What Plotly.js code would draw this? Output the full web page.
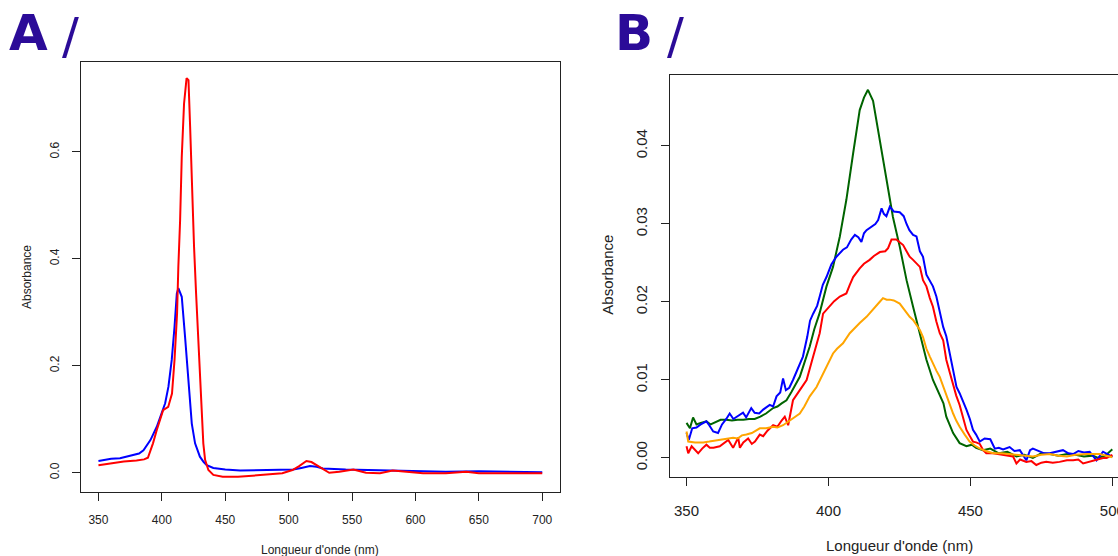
<!DOCTYPE html>
<html>
<head>
<meta charset="utf-8">
<script src="https://cdn.plot.ly/plotly-3.0.1.min.js"></script>
<style>
  html, body { margin: 0; padding: 0; background: #ffffff; overflow: hidden; width: 1118px; height: 556px; }
  #chart { width: 1140px; height: 556px; }
</style>
</head>
<body>
<div id="chart"></div>
<script>
// ---------- Panel A data ----------
const redA_nm = [350, 360, 370, 380, 386, 389, 393, 396, 401, 405, 408, 410, 412, 413, 414.4, 415.7, 417.5, 419.5, 421, 422.3, 423.6, 425.4, 427, 428.8, 430.1, 431.5, 432.7, 434.1, 436.7, 440.6, 448, 460, 472, 485, 495, 503, 508, 514, 518, 522, 527, 532, 540, 551, 561, 572, 582, 593, 606, 624, 640, 650, 665, 676, 690, 700];
const redA_abs = [0.014, 0.018, 0.021, 0.023, 0.025, 0.028, 0.055, 0.080, 0.117, 0.123, 0.148, 0.211, 0.298, 0.385, 0.472, 0.591, 0.690, 0.738, 0.734, 0.647, 0.535, 0.422, 0.335, 0.242, 0.179, 0.117, 0.055, 0.024, 0.005, -0.004, -0.0075, -0.0075, -0.006, -0.003, -0.001, 0.005, 0.012, 0.022, 0.020, 0.014, 0.006, 0.000, 0.002, 0.006, 0.000, -0.001, 0.004, 0.002, -0.001, -0.001, 0.002, -0.001, -0.001, -0.001, -0.001, -0.001];

const blueA_nm = [350, 360, 367, 372, 378, 382, 385.5, 388, 391, 396, 400, 402.6, 405.2, 407.8, 410, 411.8, 413, 414, 415.7, 418.3, 420.9, 423.6, 426.2, 430, 433, 435.4, 440.6, 443, 450, 461.7, 482.7, 503.6, 510, 516.8, 522, 527, 545, 572, 598, 624, 650, 675, 700];
const blueA_abs = [0.022, 0.026, 0.027, 0.030, 0.033, 0.036, 0.042, 0.050, 0.061, 0.086, 0.111, 0.130, 0.161, 0.211, 0.273, 0.335, 0.345, 0.340, 0.329, 0.254, 0.173, 0.092, 0.055, 0.030, 0.020, 0.014, 0.009, 0.008, 0.006, 0.004, 0.005, 0.006, 0.009, 0.0125, 0.011, 0.008, 0.006, 0.005, 0.004, 0.002, 0.003, 0.002, 0.001];

// ---------- Panel B data ----------
const greenB_nm = [350, 351.2, 352.3, 353.5, 355, 357, 358.5, 360, 362, 364, 366, 368, 370, 372, 374, 376, 378, 380.5, 382, 383.5, 385.2, 387, 389.9, 391.5, 393.4, 395, 396.9, 399.3, 401.6, 404, 406.3, 408.7, 411, 412.5, 413.9, 415.7, 417, 418.1, 420.4, 422.7, 425.1, 427.5, 429.8, 432.2, 434.5, 436.8, 439.2, 440.5, 441.5, 443.9, 446.2, 448.6, 450.5, 452, 454.4, 457, 460, 463, 466.2, 469, 472, 475, 478, 481, 484, 487, 490, 493, 495, 497.5, 499.6, 500];
const greenB_abs = [0.0045, 0.0038, 0.0052, 0.0043, 0.0045, 0.0047, 0.0043, 0.0046, 0.0049, 0.0049, 0.0048, 0.0049, 0.0049, 0.0050, 0.0050, 0.0053, 0.0057, 0.0064, 0.0066, 0.0070, 0.0074, 0.0085, 0.0104, 0.0122, 0.0143, 0.0165, 0.0186, 0.0220, 0.0245, 0.0284, 0.0331, 0.0391, 0.0446, 0.0462, 0.0472, 0.0458, 0.0430, 0.0403, 0.0356, 0.0309, 0.0271, 0.0228, 0.0194, 0.0160, 0.0126, 0.0100, 0.0079, 0.0070, 0.0053, 0.0032, 0.0019, 0.0015, 0.0017, 0.0013, 0.0010, 0.0012, 0.0006, 0.0008, 0.0002, 0.0004, 0.0000, 0.0006, 0.0005, 0.0003, 0.0005, 0.0004, 0.0002, 0.0003, 0.0000, 0.0003, 0.0010, 0.0011];

const blueB_nm = [350, 350.8, 352, 353.5, 355, 357, 358, 359.4, 361.1, 362.5, 364, 365.2, 366.5, 368, 369.9, 371, 372.8, 374, 375.6, 377, 379.3, 380.5, 381.7, 383, 384, 385, 386.2, 387.5, 389, 391, 392.5, 393.5, 394.6, 396, 396.9, 398, 399.3, 401, 402.8, 404, 405.1, 406.5, 408, 409.3, 410.5, 411.6, 412.5, 413.4, 415, 416.5, 417.5, 418.7, 419.5, 420.4, 421.6, 423, 425.1, 426.5, 427.5, 428.5, 429.8, 431, 432.2, 433.3, 434.5, 435.7, 436.8, 438, 439.2, 440.4, 441.5, 442.7, 443.9, 445.1, 446.2, 447.5, 448.6, 449.8, 450.9, 452, 453.3, 455, 457, 458.6, 460, 461.5, 463.8, 465.5, 467.4, 469.7, 471, 472, 474, 476, 477.9, 480, 482.6, 484.5, 486.2, 488, 490, 492, 494.4, 496.7, 498, 499.7, 500];
const blueB_abs = [0.0032, 0.0023, 0.0038, 0.0039, 0.0043, 0.0047, 0.0042, 0.0034, 0.0032, 0.0043, 0.0050, 0.0057, 0.0050, 0.0054, 0.0058, 0.0052, 0.0064, 0.0058, 0.0057, 0.0062, 0.0068, 0.0066, 0.0079, 0.0084, 0.0102, 0.0087, 0.0090, 0.0100, 0.0112, 0.0130, 0.0155, 0.0176, 0.0185, 0.0195, 0.0207, 0.0222, 0.0232, 0.0248, 0.0258, 0.0263, 0.0267, 0.0270, 0.0280, 0.0286, 0.0283, 0.0277, 0.0288, 0.0292, 0.0296, 0.0300, 0.0305, 0.0320, 0.0313, 0.0310, 0.0322, 0.0316, 0.0315, 0.0310, 0.0300, 0.0292, 0.0286, 0.0284, 0.0265, 0.0258, 0.0235, 0.0228, 0.0220, 0.0207, 0.0188, 0.0168, 0.0156, 0.0134, 0.0113, 0.0091, 0.0083, 0.0072, 0.0062, 0.0050, 0.0036, 0.0030, 0.0021, 0.0025, 0.0024, 0.0012, 0.0013, 0.0011, 0.0014, 0.0009, 0.0010, -0.0003, 0.0010, 0.0012, 0.0009, 0.0006, 0.0006, 0.0008, 0.0010, 0.0006, 0.0005, 0.0009, 0.0007, 0.0008, -0.0003, 0.0008, 0.0005, 0.0002, 0.0003];

const redB_nm = [350, 350.6, 351.8, 353, 354.1, 355.5, 357, 358.2, 359.5, 361.7, 363, 364.7, 366.4, 368.2, 368.8, 370, 371.7, 373, 374.1, 375.8, 377, 378.5, 380.5, 382, 383.5, 384.6, 385.8, 387.5, 389.9, 392.3, 394.6, 396.9, 398.1, 400.5, 402, 404, 406.3, 407.5, 408.7, 411, 412.5, 414.5, 416, 418.1, 420, 421, 422.2, 423.9, 425.1, 426.3, 427.5, 428.6, 429.8, 431, 432.2, 433.3, 434.5, 435.7, 436.8, 438, 439.2, 440.4, 441.5, 442.7, 443.9, 445, 446.2, 447.5, 448.6, 449.8, 450.9, 452, 453.3, 454.5, 455.6, 458, 460, 462.5, 465, 466.2, 467.5, 469.7, 471.5, 473.2, 475, 476.7, 479, 481.4, 484, 486.2, 488, 489.7, 491.5, 493.2, 495, 496.7, 498, 499.7, 500];
const redB_abs = [0.0015, 0.0006, 0.0015, 0.0010, 0.0006, 0.0012, 0.0017, 0.0013, 0.0013, 0.0015, 0.0018, 0.0023, 0.0013, 0.0026, 0.0013, 0.0020, 0.0025, 0.0018, 0.0021, 0.0030, 0.0028, 0.0035, 0.0042, 0.0040, 0.0048, 0.0053, 0.0042, 0.0074, 0.0087, 0.0100, 0.0130, 0.0160, 0.0185, 0.0194, 0.0201, 0.0207, 0.0211, 0.0222, 0.0232, 0.0243, 0.0249, 0.0254, 0.0259, 0.0264, 0.0265, 0.0269, 0.0280, 0.0280, 0.0276, 0.0273, 0.0265, 0.0258, 0.0254, 0.0250, 0.0245, 0.0228, 0.0220, 0.0205, 0.0194, 0.0175, 0.0160, 0.0151, 0.0126, 0.0110, 0.0094, 0.0080, 0.0068, 0.0050, 0.0036, 0.0028, 0.0021, 0.0020, 0.0018, 0.0010, 0.0006, 0.0006, 0.0005, 0.0004, 0.0002, -0.0007, -0.0002, -0.0005, -0.0004, -0.0009, -0.0006, -0.0005, -0.0006, -0.0005, -0.0003, -0.0003, -0.0002, -0.0007, -0.0005, -0.0003, -0.0002, 0.0000, 0.0000, 0.0003, 0.0004];

const orangeB_nm = [350, 350.6, 353, 355.9, 358, 360, 361.7, 364, 366.4, 368, 369.5, 371.1, 373, 375.8, 378, 380.5, 382, 384, 385.5, 387.5, 389.9, 391.5, 393.4, 395.8, 397.5, 399.3, 401.6, 403, 405.1, 407.5, 409, 411, 413.4, 415, 416.3, 418, 419.2, 420.5, 421.6, 423, 425.1, 426.5, 427.5, 428.6, 429.8, 431, 432.2, 433.3, 434.5, 435.7, 436.8, 438, 439.2, 440.4, 441.5, 442.7, 443.9, 445, 446.2, 448, 449.7, 451.5, 453.3, 455.5, 458, 461, 463.8, 467, 470, 472, 475, 478, 481, 484, 487, 491, 495.5, 498, 500];
const orangeB_abs = [0.0034, 0.0021, 0.0020, 0.0020, 0.0021, 0.0022, 0.0023, 0.0024, 0.0026, 0.0025, 0.0029, 0.0030, 0.0032, 0.0038, 0.0038, 0.0040, 0.0039, 0.0042, 0.0046, 0.0051, 0.0057, 0.0066, 0.0079, 0.0091, 0.0104, 0.0117, 0.0134, 0.0140, 0.0147, 0.0160, 0.0166, 0.0173, 0.0181, 0.0188, 0.0194, 0.0200, 0.0205, 0.0203, 0.0203, 0.0202, 0.0198, 0.0191, 0.0185, 0.0181, 0.0177, 0.0170, 0.0164, 0.0155, 0.0140, 0.0130, 0.0121, 0.0112, 0.0104, 0.0092, 0.0080, 0.0068, 0.0057, 0.0048, 0.0040, 0.0030, 0.0021, 0.0016, 0.0012, 0.0009, 0.0006, 0.0006, 0.0005, 0.0004, 0.0003, 0.0002, 0.0004, 0.0005, 0.0003, 0.0002, 0.0004, 0.0005, 0.0005, 0.0003, 0.0001];

// ---------- Tick labels ----------
const xTicksA = [350, 400, 450, 500, 550, 600, 650, 700];
const yTicksA = [0.0, 0.2, 0.4, 0.6];
const xTicksB = [350, 400, 450, 500];
const yTicksB = [0.00, 0.01, 0.02, 0.03, 0.04];

const xTitle = "Longueur d'onde (nm)";
const yTitle = "Absorbance";

// ---------- Layout geometry ----------
const W = 1140, H = 556;
const fx = p => p / W;
const fy = p => 1 - p / H;

const FONT = "Liberation Sans, Arial, sans-serif";
const AXC = "#222222";

function lineTrace(x, y, color, xa, ya, w) {
  return { x: x, y: y, type: 'scatter', mode: 'lines', xaxis: xa, yaxis: ya,
           line: { color: color, width: w, shape: 'linear' }, hoverinfo: 'skip', showlegend: false };
}

const traces = [
  lineTrace(blueA_nm, blueA_abs, '#0000ff', 'x', 'y', 2),
  lineTrace(redA_nm, redA_abs, '#ff0000', 'x', 'y', 2),
  lineTrace(greenB_nm, greenB_abs, '#006400', 'x2', 'y2', 2),
  lineTrace(blueB_nm, blueB_abs, '#0000ff', 'x2', 'y2', 2),
  lineTrace(redB_nm, redB_abs, '#ff0000', 'x2', 'y2', 2),
  lineTrace(orangeB_nm, orangeB_abs, '#ffa500', 'x2', 'y2', 2)
];

function axisBase(extra) {
  return Object.assign({
    showline: true, mirror: true, linecolor: AXC, linewidth: 1,
    showgrid: false, zeroline: false, ticks: 'outside', ticklen: 8, tickwidth: 1, tickcolor: AXC,
    tickmode: 'array', fixedrange: true
  }, extra);
}

const layout = {
  width: W, height: H,
  margin: { l: 0, r: 0, t: 0, b: 0 },
  paper_bgcolor: '#ffffff', plot_bgcolor: '#ffffff',
  showlegend: false,
  font: { family: FONT, color: '#222222' },
  xaxis: axisBase({ domain: [fx(80.7), fx(560)], range: [336, 714], anchor: 'y',
    tickvals: xTicksA, ticktext: xTicksA.map(String), tickfont: { size: 12, family: FONT, color: '#222' },
    ticklabelstandoff: 9 }),
  yaxis: axisBase({ domain: [fy(492), fy(62)], range: [-0.036, 0.768], anchor: 'x',
    tickvals: yTicksA, ticktext: yTicksA.map(v => v.toFixed(1)), tickangle: -90,
    tickfont: { size: 12, family: FONT, color: '#222' }, ticklabelstandoff: 8 }),
  xaxis2: axisBase({ domain: [fx(669.5), fx(1129.4)], range: [344, 506], anchor: 'y2',
    tickvals: xTicksB, ticktext: xTicksB.map(String), tickfont: { size: 15, family: FONT, color: '#222' },
    ticklabelstandoff: 12 }),
  yaxis2: axisBase({ domain: [fy(476.7), fy(75)], range: [-0.0024, 0.0491], anchor: 'x2',
    tickvals: yTicksB, ticktext: yTicksB.map(v => v.toFixed(2)), tickangle: -90,
    tickfont: { size: 15, family: FONT, color: '#222' }, ticklabelstandoff: 8 }),
  annotations: [
    { text: xTitle, xref: 'paper', yref: 'paper', x: fx(320), y: fy(550), xanchor: 'center', yanchor: 'middle',
      showarrow: false, font: { size: 12, family: FONT, color: '#222' } },
    { text: yTitle, xref: 'paper', yref: 'paper', x: fx(27), y: fy(277), xanchor: 'center', yanchor: 'middle',
      textangle: -90, showarrow: false, font: { size: 12, family: FONT, color: '#222' } },
    { text: xTitle, xref: 'paper', yref: 'paper', x: fx(899), y: fy(545), xanchor: 'center', yanchor: 'middle',
      showarrow: false, font: { size: 15, family: FONT, color: '#222' } },
    { text: yTitle, xref: 'paper', yref: 'paper', x: fx(606.7), y: fy(275), xanchor: 'center', yanchor: 'middle',
      textangle: -90, showarrow: false, font: { size: 15, family: FONT, color: '#222' } },
    { text: 'A', xref: 'paper', yref: 'paper', x: fx(28.5), y: fy(33), xanchor: 'center', yanchor: 'middle',
      showarrow: false, font: { size: 50, family: 'DejaVu Sans', weight: 'bold', color: '#2b0b98' } },
    { text: '/', xref: 'paper', yref: 'paper', x: fx(70), y: fy(36), xanchor: 'center', yanchor: 'middle',
      showarrow: false, font: { size: 50, family: 'DejaVu Sans', color: '#2b0b98' } },
    { text: 'B', xref: 'paper', yref: 'paper', x: fx(634), y: fy(33), xanchor: 'center', yanchor: 'middle',
      showarrow: false, font: { size: 50, family: 'DejaVu Sans', weight: 'bold', color: '#2b0b98' } },
    { text: '/', xref: 'paper', yref: 'paper', x: fx(675), y: fy(36), xanchor: 'center', yanchor: 'middle',
      showarrow: false, font: { size: 50, family: 'DejaVu Sans', color: '#2b0b98' } }
  ]
};

Plotly.newPlot('chart', traces, layout, { staticPlot: true, displayModeBar: false });
</script>
</body>
</html>
